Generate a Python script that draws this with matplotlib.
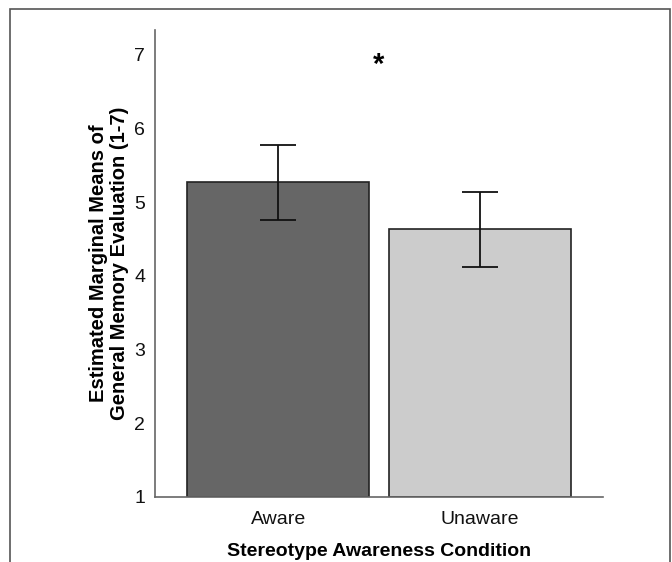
import matplotlib.pyplot as plt
from matplotlib.patches import Rectangle

plt.rcParams['font.family'] = ['Liberation Sans', 'DejaVu Sans']

# --- data ---
conditions = ['Aware', 'Unaware']
means = [5.28, 4.64]
ci_low = [4.76, 4.12]
ci_high = [5.78, 5.14]
bar_colors = ['#666666', '#cccccc']

err = [[m - lo for m, lo in zip(means, ci_low)],
       [hi - m for m, hi in zip(means, ci_high)]]

fig = plt.figure(figsize=(6.72, 5.62), dpi=100)
ax = fig.add_axes([0.2307, 0.1157, 0.6667, 0.831])

x = range(len(conditions))
ax.bar(x, [m - 1 for m in means], bottom=1, width=0.9, color=bar_colors,
       edgecolor='#222222', linewidth=1.2, zorder=2)
ax.errorbar(x, means, yerr=err, fmt='none', ecolor='#111111',
            elinewidth=1.3, capsize=13, capthick=1.3, zorder=3)

ax.text(0.5, 6.86, '*', ha='center', va='center', fontsize=21, fontweight='bold')

ax.set_xlim(-0.61, 1.61)
ax.set_ylim(1, 7.34)
ax.set_yticks([1, 2, 3, 4, 5, 6, 7])
ax.set_xticks(list(x))
ax.set_xticklabels(conditions)
ax.tick_params(axis='both', length=0, labelsize=14, colors='#111111', pad=7)
ax.tick_params(axis='x', pad=10)

for s in ['top', 'right']:
    ax.spines[s].set_visible(False)
for s in ['left', 'bottom']:
    ax.spines[s].set_color('#666666')
    ax.spines[s].set_linewidth(1.2)

ax.set_xlabel('Stereotype Awareness Condition', fontsize=14, fontweight='bold', labelpad=11)
ax.set_ylabel('Estimated Marginal Means of\nGeneral Memory Evaluation (1-7)',
              fontsize=14.5, fontweight='bold', linespacing=1.1, labelpad=4)

# outer frame
fig.add_artist(Rectangle((10 / 672, -0.1), 660 / 672, 1.1 - 9 / 562,
                         transform=fig.transFigure, fill=False,
                         edgecolor='#555555', linewidth=1.2))

fig.savefig('out.png', dpi=100)
